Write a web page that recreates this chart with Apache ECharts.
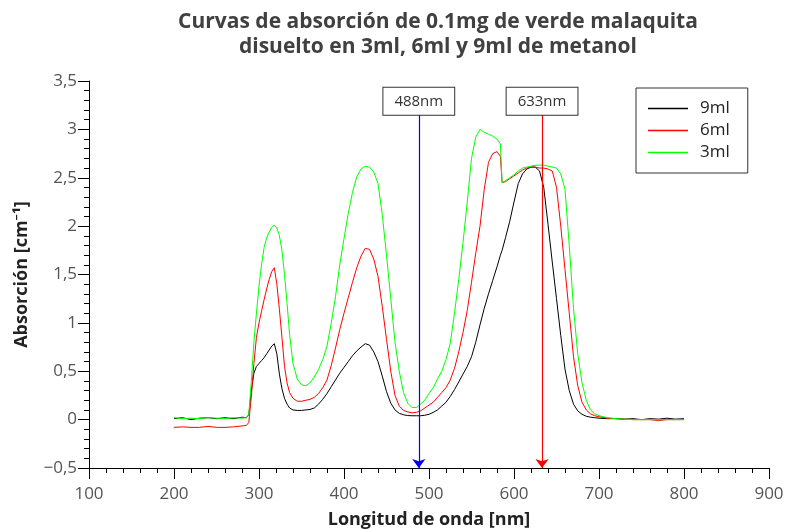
<!DOCTYPE html>
<html>
<head>
<meta charset="utf-8">
<script src="https://cdn.jsdelivr.net/npm/echarts@6/dist/echarts.min.js"></script>
<style>
  html, body { margin: 0; padding: 0; background: #fff; }
  #chart { width: 786px; height: 529px; }
</style>
</head>
<body>
<div id="chart"></div>
<script>
// Longitudes de onda muestreadas (nm)
const longitudOnda = [
  200, 210, 220, 230, 240, 250, 260, 270, 280, 285,
  288, 291, 294, 297, 300, 303, 306, 309, 312, 315, 318, 321, 324, 327, 330, 333, 336,
  340, 345, 350, 355, 360, 365, 370, 375, 380, 385,
  390, 395, 400, 405, 410, 415, 420, 425, 430, 435,
  440, 445, 450, 455, 460, 465, 470, 475, 480, 485,
  490, 495, 500, 505, 510, 515, 520, 525, 530, 535,
  540, 545, 550, 555, 560, 565, 570, 575, 580,
  584, 586,
  590, 595, 600, 605, 610, 615, 620, 625, 630, 635, 640, 645, 650, 655, 660, 665, 670, 675, 680, 685, 690, 695, 700,
  710, 720, 730, 740, 750, 760, 770, 780, 790, 800
];

// Absorción, 9 ml de metanol
const abs9ml = [
  0.01, 0.02, 0.00, 0.015, 0.02, 0.01, 0.02, 0.01, 0.025, 0.02,
  0.05, 0.30, 0.48, 0.55, 0.58, 0.61, 0.64, 0.68, 0.72, 0.76, 0.785, 0.68, 0.47, 0.32, 0.22, 0.16, 0.12,
  0.10, 0.095, 0.095, 0.10, 0.105, 0.12, 0.16, 0.21, 0.27, 0.34,
  0.41, 0.48, 0.54, 0.60, 0.66, 0.71, 0.75, 0.785, 0.77, 0.70,
  0.60, 0.45, 0.29, 0.17, 0.10, 0.065, 0.05, 0.042, 0.04, 0.04,
  0.04, 0.045, 0.055, 0.075, 0.10, 0.14, 0.18, 0.24, 0.31, 0.39,
  0.47, 0.55, 0.65, 0.80, 0.98, 1.15, 1.30, 1.44, 1.58,
  1.70, 1.75,
  1.88, 2.05, 2.25, 2.44, 2.54, 2.59, 2.61, 2.61, 2.57, 2.40, 2.02, 1.63, 1.25, 0.87, 0.52, 0.30, 0.16, 0.09, 0.055, 0.035, 0.025, 0.02, 0.015,
  0.01, 0.01, 0.005, 0.01, 0.0, 0.01, 0.005, 0.015, 0.005, 0.01
];

// Absorción, 6 ml de metanol
const abs6ml = [
  -0.08, -0.075, -0.08, -0.08, -0.07, -0.08, -0.08, -0.075, -0.065, -0.06,
  -0.03, 0.24, 0.58, 0.85, 1.00, 1.12, 1.24, 1.35, 1.45, 1.53, 1.57, 1.40, 1.14, 0.85, 0.55, 0.38, 0.28,
  0.22, 0.19, 0.19, 0.20, 0.21, 0.23, 0.27, 0.33, 0.41, 0.56,
  0.74, 0.93, 1.10, 1.26, 1.42, 1.57, 1.69, 1.77, 1.76, 1.66,
  1.48, 1.17, 0.83, 0.50, 0.25, 0.14, 0.095, 0.08, 0.07, 0.075,
  0.09, 0.12, 0.15, 0.18, 0.23, 0.28, 0.33, 0.41, 0.53, 0.70,
  0.90, 1.13, 1.42, 1.72, 2.00, 2.38, 2.66, 2.75, 2.77,
  2.72, 2.45,
  2.46, 2.49, 2.52, 2.55, 2.58, 2.60, 2.61, 2.61, 2.60, 2.60, 2.59, 2.57, 2.40, 2.00, 1.55, 1.10, 0.65, 0.35, 0.18, 0.10, 0.06, 0.04, 0.03,
  0.015, 0.01, 0.005, 0.0, 0.0, 0.0, -0.01, 0.0, 0.0, 0.0
];

// Absorción, 3 ml de metanol
const abs3ml = [
  0.02, 0.01, 0.015, 0.01, 0.02, 0.015, 0.01, 0.02, 0.015, 0.02,
  0.05, 0.40, 0.80, 1.10, 1.38, 1.60, 1.78, 1.88, 1.94, 1.99, 2.01, 1.98, 1.90, 1.75, 1.50, 1.20, 0.88,
  0.58, 0.42, 0.36, 0.35, 0.38, 0.44, 0.52, 0.62, 0.76, 1.00,
  1.27, 1.60, 1.87, 2.13, 2.35, 2.51, 2.59, 2.62, 2.61, 2.56,
  2.44, 2.12, 1.70, 1.25, 0.80, 0.50, 0.28, 0.17, 0.125, 0.125,
  0.16, 0.20, 0.27, 0.33, 0.42, 0.50, 0.62, 0.79, 1.10, 1.45,
  1.83, 2.25, 2.70, 2.92, 3.00, 2.97, 2.95, 2.93, 2.90,
  2.85, 2.45,
  2.47, 2.50, 2.53, 2.57, 2.60, 2.61, 2.62, 2.63, 2.63, 2.63, 2.62, 2.61, 2.60, 2.54, 2.38, 1.80, 1.15, 0.68, 0.38, 0.20, 0.10, 0.06, 0.04,
  0.02, 0.01, 0.005, 0.0, 0.0, 0.0, 0.0, 0.0, 0.0, 0.0
];

const nombresSeries = ['9ml', '6ml', '3ml'];
const coloresSeries = ['#000000', '#ff0000', '#00ff00'];

// Longitudes de onda de los láseres marcados
const marcasLaser = [488, 633];
const etiquetasLaser = ['488nm', '633nm'];
const coloresLaser = ['#0000ff', '#ff0000'];
const alturaMarca = 3.15;

const ejeX = { min: 100, max: 900, step: 100 };
const ejeY = { min: -0.5, max: 3.5, step: 0.5 };

const fuente = '"Open Sans", "Noto Sans", sans-serif';

function pares(valores) {
  return longitudOnda.map((w, i) => [w, valores[i]]);
}

const valoresSeries = [abs9ml, abs6ml, abs3ml];

const series = nombresSeries.map((nombre, i) => ({
  name: nombre,
  type: 'line',
  data: pares(valoresSeries[i]),
  showSymbol: false,
  symbol: 'none',
  lineStyle: { color: coloresSeries[i], width: 1 },
  itemStyle: { color: coloresSeries[i] },
  z: 2 + i
}));

// Líneas verticales con flecha y recuadro de texto
series[0].markLine = {
  silent: true,
  symbol: ['none', 'arrow'],
  symbolSize: [10, 9],
  animation: false,
  data: marcasLaser.map((w, i) => [
    {
      coord: [w, alturaMarca],
      lineStyle: { color: coloresLaser[i], width: 1.2, type: 'solid' },
      itemStyle: { color: coloresLaser[i] },
      label: {
        show: true,
        position: 'start',
        distance: 0,
        formatter: etiquetasLaser[i],
        color: '#333',
        fontFamily: fuente,
        fontSize: 15,
        backgroundColor: '#fff',
        borderColor: '#333',
        borderWidth: 1,
        padding: [6, 11, 6, 11]
      }
    },
    { coord: [w, ejeY.min] }
  ])
};

const chart = echarts.init(document.getElementById('chart'), null, { renderer: 'canvas' });

const fmtY = v => String(v).replace('.', ',').replace('-', '\u2212');

chart.setOption({
  animation: false,
  backgroundColor: '#fff',
  graphic: [{
    type: 'text',
    x: 438,
    y: 10,
    style: {
      text: 'Curvas de absorción de 0.1mg de verde malaquita\ndisuelto en 3ml, 6ml y 9ml de metanol',
      align: 'center',
      verticalAlign: 'top',
      fill: '#404040',
      font: 'bold 21px ' + fuente,
      lineHeight: 25
    }
  }],
  legend: {
    left: 636,
    top: 88,
    orient: 'vertical',
    selectedMode: false,
    icon: 'rect',
    itemWidth: 40,
    itemHeight: 1.5,
    itemGap: 5,
    padding: [12, 18, 12, 12],
    borderColor: '#333',
    borderWidth: 1,
    backgroundColor: '#fff',
    textStyle: { fontFamily: fuente, fontSize: 17, color: '#222', padding: [0, 0, 0, 7] },
    data: nombresSeries
  },
  grid: { left: 89, right: 17, top: 81, bottom: 61, containLabel: false, outerBoundsMode: 'none' },
  xAxis: {
    type: 'value',
    min: ejeX.min,
    max: ejeX.max,
    interval: ejeX.step,
    name: 'Longitud de onda [nm]',
    nameLocation: 'middle',
    nameGap: 43,
    nameTextStyle: { fontFamily: fuente, fontSize: 18, fontWeight: 'bold', color: '#222' },
    axisLine: { show: true, onZero: false, lineStyle: { color: '#000', width: 1 } },
    axisTick: { show: true, inside: false, length: 11, lineStyle: { color: '#000' } },
    minorTick: { show: true, splitNumber: 5, length: 5, lineStyle: { color: '#000' } },
    splitLine: { show: false },
    axisLabel: { fontFamily: fuente, fontSize: 17, color: '#555', margin: 18 }
  },
  yAxis: {
    type: 'value',
    min: ejeY.min,
    max: ejeY.max,
    interval: ejeY.step,
    name: 'Absorción [cm\u207B\u00B9]',
    nameLocation: 'middle',
    nameGap: 58,
    nameRotate: 90,
    nameTextStyle: { fontFamily: fuente, fontSize: 18, fontWeight: 'bold', color: '#222' },
    axisLine: { show: true, onZero: false, lineStyle: { color: '#000', width: 1 } },
    axisTick: { show: true, inside: false, length: 11, lineStyle: { color: '#000' } },
    minorTick: { show: true, splitNumber: 5, length: 5, lineStyle: { color: '#000' } },
    splitLine: { show: false },
    axisLabel: { fontFamily: fuente, fontSize: 17, color: '#555', margin: 12, formatter: fmtY }
  },
  series: series
});
</script>
</body>
</html>
